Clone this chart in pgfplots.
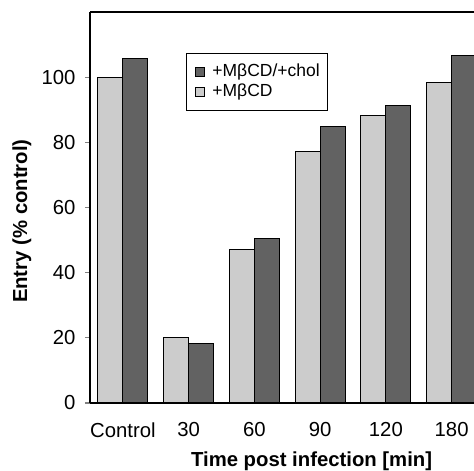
\documentclass[border=0pt]{standalone}
\usepackage{fontspec}
\setmainfont{Liberation Sans}
\usepackage{pgfplots}
\pgfplotsset{compat=1.18}
\definecolor{lightbar}{RGB}{204,204,204}
\definecolor{darkbar}{RGB}{98,98,98}
\newcommand{\legfont}{\fontsize{17.5}{19}\selectfont}
\newcommand{\bigfont}{\fontsize{20.3}{23}\selectfont}
\begin{document}
\begin{tikzpicture}
\begin{axis}[
  scale only axis,
  width=384pt, height=391pt,
  xmin=-0.5, xmax=5.34,
  ymin=0, ymax=120,
  axis x line*=bottom,
  axis y line*=left,
  axis line style={-, line width=1.2pt},
  ytick={0,20,...,100},
  xtick={0,1,2,3,4,5},
  xticklabels={Control,30,60,90,120,180},
  major x tick style={draw=none},
  extra x ticks={0.5,1.5,2.5,3.5,4.5},
  extra x tick labels={},
  extra x tick style={tick style={draw=black, line width=1.2pt}, major tick length=5pt, tick align=outside},
  ytick style={line width=1.2pt},
  tick align=outside,
  major tick length=5pt,
  /pgf/number format/assume math mode=true,
  tick label style={font=\bigfont},
  yticklabel style={xshift=-6pt},
  xticklabel style={yshift=-11pt},
  ylabel={\bfseries Entry (\% control)},
  ylabel style={font=\bigfont, at={(rel axis cs:0,0.465)}, anchor=center, yshift=68pt},
  xlabel={\bfseries Time post infection [min]},
  xlabel style={font=\bigfont, at={(axis cs:2.87,0)}, anchor=north, yshift=-45pt},
  legend style={at={(rel axis cs:0.25,0.895)}, anchor=north west, draw=black, line width=1.3pt,
    inner xsep=8pt, inner ysep=10pt, row sep=2.5pt,
    nodes={inner sep=0pt, text height=13pt, text depth=4pt},
    /tikz/every odd column/.style={column sep=8pt},
    cells={anchor=west}},
  legend image code/.code={\draw[#1, line width=0.8pt] (0pt,-4.5pt) rectangle (9pt,4.5pt);},
  reverse legend,
  clip=true,
]
\coordinate (bl) at (rel axis cs:0,0);
\coordinate (tr) at (rel axis cs:1,1);
\addplot[ybar, bar width=25pt, bar shift=-12.5pt, fill=lightbar, draw=black, line width=1pt]
  coordinates {(0,100) (1,20.0) (2,47.1) (3,77.3) (4,88.1) (5,98.5)};
\addlegendentry{\legfont +MβCD}
\addplot[ybar, bar width=25pt, bar shift=12.5pt, fill=darkbar, draw=black, line width=1pt]
  coordinates {(0,105.8) (1,18.3) (2,50.6) (3,84.8) (4,91.4) (5,106.7)};
\addlegendentry{\legfont +MβCD/+chol}
\end{axis}
\draw[line width=1.2pt] (bl |- tr) -- (tr);
\pgfresetboundingbox
\path ([shift={(-90pt,-68pt)}]bl) rectangle ([shift={(0pt,12pt)}]tr);
\end{tikzpicture}
\end{document}
